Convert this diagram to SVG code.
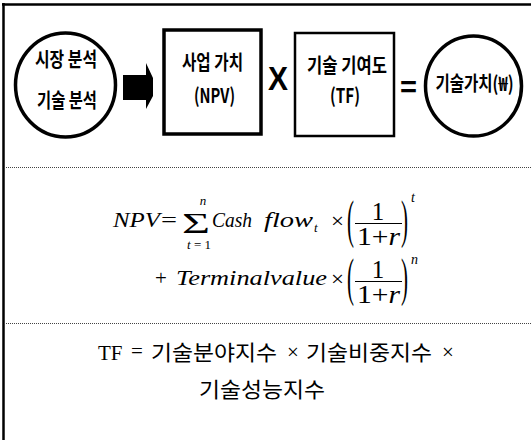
<svg xmlns="http://www.w3.org/2000/svg" width="531" height="440" viewBox="0 0 531 440">
  <style>
    .frame { stroke: #000; stroke-width: 2.5; fill: none; }
    .sep { stroke: #444; stroke-width: 1; stroke-dasharray: 1 1; fill: none; }
    .node { fill: #fff; stroke: #000; }
    .lbl { font-family: "Noto Sans CJK KR", "Liberation Sans", sans-serif; font-weight: 700; font-size: 20px; fill: #000; text-anchor: middle; }
    .op { font-family: "Liberation Sans", "DejaVu Sans", sans-serif; font-weight: 700; fill: #000; text-anchor: middle; }
    .m { font-family: "Liberation Serif", "DejaVu Serif", serif; fill: #000; }
    .mi { font-family: "Liberation Serif", "DejaVu Serif", serif; font-style: italic; fill: #000; }
    .kr { font-family: "Liberation Serif", "Noto Sans CJK KR", serif; font-size: 21px; fill: #000; }
    .bar { stroke: #000; stroke-width: 1.2; }
  </style>

  <rect width="531" height="440" fill="#fff"/>

  <!-- outer frame: top rule and left rule only -->
  <line class="frame" x1="2" y1="4.5" x2="531" y2="4.5"/>
  <line class="frame" x1="3.5" y1="3" x2="3.5" y2="440"/>

  <!-- section separators -->
  <line class="sep" x1="4" y1="167.5" x2="531" y2="167.5"/>
  <line class="sep" x1="4" y1="323.5" x2="531" y2="323.5"/>

  <!-- input analyses -->
  <g id="analysis">
    <ellipse class="node" cx="65.5" cy="85" rx="50" ry="52" stroke-width="3.5"/>
    <text class="lbl" x="66" y="66.5" textLength="62" lengthAdjust="spacingAndGlyphs">시장 분석</text>
    <text class="lbl" x="67" y="108" textLength="60" lengthAdjust="spacingAndGlyphs">기술 분석</text>
  </g>

  <g id="connectors">
    <path d="M123,75 H146 V63 L153,78 V96 L146,109 V100 H123 Z" fill="#000"/>
  </g>

  <!-- business value -->
  <g id="npv">
    <rect class="node" x="164" y="30" width="97" height="104" stroke-width="3.5"/>
    <text class="lbl" x="212.5" y="70" textLength="61" lengthAdjust="spacingAndGlyphs">사업 가치</text>
    <text class="lbl" x="214.5" y="103" textLength="41" lengthAdjust="spacingAndGlyphs">(NPV)</text>
  </g>

  <g id="times-op">
    <text class="op" x="278" y="90" font-size="34" textLength="20" lengthAdjust="spacingAndGlyphs">X</text>
  </g>

  <!-- technology factor -->
  <g id="tf">
    <rect class="node" x="295" y="33" width="99" height="103" stroke-width="2.5"/>
    <text class="lbl" x="347" y="73" textLength="80" lengthAdjust="spacingAndGlyphs">기술 기여도</text>
    <text class="lbl" x="345" y="103" textLength="30" lengthAdjust="spacingAndGlyphs">(TF)</text>
  </g>

  <g id="equals-op">
    <text class="op" x="408.5" y="97" font-size="30" textLength="17" lengthAdjust="spacingAndGlyphs">=</text>
  </g>

  <!-- resulting technology value -->
  <g id="tech-value">
    <ellipse class="node" cx="473.5" cy="86" rx="48" ry="50" stroke-width="3.5"/>
    <text class="lbl" x="474.5" y="91" font-size="19" textLength="78" lengthAdjust="spacingAndGlyphs">기술가치(₩)</text>
  </g>

  <!-- NPV formula -->
  <g id="npv-formula">
    <text class="mi" x="113" y="227" font-size="20" textLength="47" lengthAdjust="spacingAndGlyphs">NPV</text>
    <text class="m" x="161" y="227" font-size="20" textLength="16" lengthAdjust="spacingAndGlyphs">=</text>
    <text class="m" x="182" y="233" font-size="30" textLength="28" lengthAdjust="spacingAndGlyphs">Σ</text>
    <text class="mi" x="203" y="205" font-size="13" text-anchor="middle">n</text>
    <text class="m" x="199" y="249" font-size="13" text-anchor="middle"><tspan font-style="italic">t</tspan> = 1</text>
    <text class="mi" x="212" y="227" font-size="22" textLength="40" lengthAdjust="spacingAndGlyphs">Cash</text>
    <text class="mi" x="264" y="227" font-size="22" textLength="49" lengthAdjust="spacingAndGlyphs">flow</text>
    <text class="mi" x="314" y="232" font-size="13">t</text>
    <text class="m" x="331" y="228" font-size="21" textLength="13" lengthAdjust="spacingAndGlyphs">×</text>
    <text class="m" x="347" y="236.5" font-size="53" textLength="7" lengthAdjust="spacingAndGlyphs">(</text>
    <text class="m" x="378" y="220" font-size="25" text-anchor="middle">1</text>
    <line class="bar" x1="355" y1="223.5" x2="402" y2="223.5"/>
    <text class="m" x="357" y="245" font-size="25" textLength="43" lengthAdjust="spacingAndGlyphs">1+<tspan font-style="italic">r</tspan></text>
    <text class="m" x="401" y="236.5" font-size="53" textLength="7" lengthAdjust="spacingAndGlyphs">)</text>
    <text class="mi" x="411" y="202" font-size="14">t</text>

    <text class="m" x="155" y="285" font-size="21">+</text>
    <text class="mi" x="176" y="285" font-size="21" textLength="151" lengthAdjust="spacingAndGlyphs">Terminalvalue</text>
    <text class="m" x="331" y="286" font-size="21" textLength="13" lengthAdjust="spacingAndGlyphs">×</text>
    <text class="m" x="347" y="294.5" font-size="53" textLength="7" lengthAdjust="spacingAndGlyphs">(</text>
    <text class="m" x="378" y="278" font-size="25" text-anchor="middle">1</text>
    <line class="bar" x1="355" y1="281.5" x2="402" y2="281.5"/>
    <text class="m" x="357" y="303" font-size="25" textLength="43" lengthAdjust="spacingAndGlyphs">1+<tspan font-style="italic">r</tspan></text>
    <text class="m" x="401" y="294.5" font-size="53" textLength="7" lengthAdjust="spacingAndGlyphs">)</text>
    <text class="mi" x="411" y="264" font-size="14">n</text>
  </g>

  <!-- TF definition -->
  <g id="tf-formula">
    <text class="kr" x="98" y="360" font-size="22">TF</text>
    <text class="kr" x="131" y="358" font-size="16">=</text>
    <text class="kr" x="151" y="360" textLength="126" lengthAdjust="spacingAndGlyphs">기술분야지수</text>
    <text class="kr" x="287" y="359" font-size="17">×</text>
    <text class="kr" x="306" y="360" textLength="126" lengthAdjust="spacingAndGlyphs">기술비중지수</text>
    <text class="kr" x="442" y="359" font-size="17">×</text>
    <text class="kr" x="199" y="397" textLength="126" lengthAdjust="spacingAndGlyphs">기술성능지수</text>
  </g>
</svg>
